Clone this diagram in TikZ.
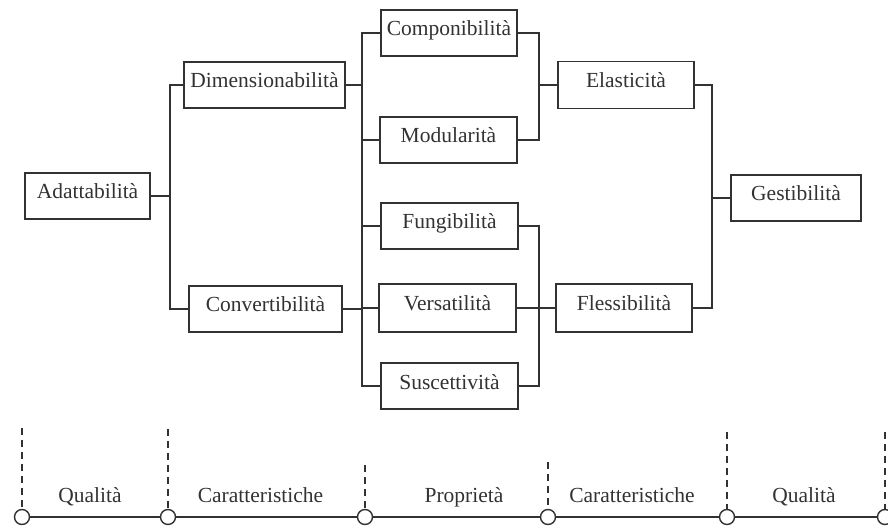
\documentclass[tikz,border=0pt]{standalone}
\usepackage{fontspec}
\setmainfont{Liberation Serif}
\definecolor{ink}{RGB}{50,50,50}
\begin{document}
\begin{tikzpicture}[x=1pt,y=-1pt,
  every node/.style={text=ink},
  box/.style={draw=ink,line width=1.5pt,inner sep=0pt,font=\fontsize{21.5}{24}\selectfont,
    text height=12pt,text depth=6pt,minimum height=46pt},
  link/.style={draw=ink,line width=2pt},
  guide/.style={draw=ink,line width=1.3pt,dash pattern=on 7pt off 5pt},
  stop/.style={circle,draw=ink,line width=1.4pt,fill=white,minimum size=15pt,inner sep=0pt},
  tag/.style={anchor=base,font=\fontsize{21.5}{24}\selectfont}]
\useasboundingbox (0,0) rectangle (888,526);

% level 1
\node[box,minimum width=125pt] (adatt) at (87.5,196) {Adattabilità};
% level 2
\node[box,minimum width=161pt] (dimen) at (264.5,85) {Dimensionabilità};
\node[box,minimum width=153pt] (conv) at (265.5,309) {Convertibilità};
% level 3
\node[box,minimum width=136pt] (comp) at (449,33) {Componibilità};
\node[box,minimum width=137pt] (modu) at (448.5,140) {Modularità};
\node[box,minimum width=137pt] (fung) at (449.5,226) {Fungibilità};
\node[box,minimum width=137pt,minimum height=48pt] (vers) at (447.5,308) {Versatilità};
\node[box,minimum width=137pt] (susc) at (449.5,386) {Suscettività};
% level 4
\node[box,minimum width=136pt,minimum height=47pt] (elas) at (626,85) {Elasticità};
\node[box,minimum width=136pt,minimum height=48pt] (fless) at (624,308) {Flessibilità};
% level 5
\node[box,minimum width=130pt] (gest) at (796,198) {Gestibilità};

% junction points of the bracket connectors
\coordinate (j1) at (170,196);
\coordinate (j2a) at (362,85);
\coordinate (j2b) at (362,308);
\coordinate (j3) at (539,85);
\coordinate (j4) at (539,308);
\coordinate (j5) at (712,198);

\draw[link] (adatt.east) -- (j1);
\draw[link] (dimen.west) -| (j1);
\draw[link] (conv.west) -| (j1);

\draw[link] (dimen.east) -- (j2a);
\draw[link] (conv.east) -| (j2b);
\draw[link] (j2a) -- (j2b);
\draw[link] (comp.west) -| (j2a);
\draw[link] (modu.west) -| (j2a);
\draw[link] (fung.west) -| (j2b);
\draw[link] (vers.west) -- (j2b);
\draw[link] (susc.west) -| (j2b);

\draw[link] (comp.east) -| (j3);
\draw[link] (modu.east) -| (j3);
\draw[link] (j3) -- (elas.west);

\draw[link] (fung.east) -| (j4);
\draw[link] (susc.east) -| (j4);
\draw[link] (vers.east) -- (j4);
\draw[link] (j4) -- (fless.west);

\draw[link] (elas.east) -| (j5);
\draw[link] (fless.east) -| (j5);
\draw[link] (j5) -- (gest.west);

% scale along the bottom
\coordinate (t1) at (22,428);
\coordinate (t2) at (168,429);
\coordinate (t3) at (365,465);
\coordinate (t4) at (548,462);
\coordinate (t5) at (727,432);
\coordinate (t6) at (885,432);
\node[stop] (c1) at (22,517) {};
\node[stop] (c2) at (168,517) {};
\node[stop] (c3) at (365,517) {};
\node[stop] (c4) at (548,517) {};
\node[stop] (c5) at (727,517) {};
\node[stop] (c6) at (885,517) {};
\draw[draw=ink,line width=1.7pt] (c1) -- (c2) -- (c3) -- (c4) -- (c5) -- (c6);
\foreach \i in {1,...,6} \draw[guide] (t\i) -- (c\i.north);

\node[tag] (q1) at (90,502) {Qualità};
\node[tag] (k1) at (260.5,502) {Caratteristiche};
\node[tag] (p1) at (464,502) {Proprietà};
\node[tag] (k2) at (632,502) {Caratteristiche};
\node[tag] (q2) at (804,502) {Qualità};
\end{tikzpicture}
\end{document}
